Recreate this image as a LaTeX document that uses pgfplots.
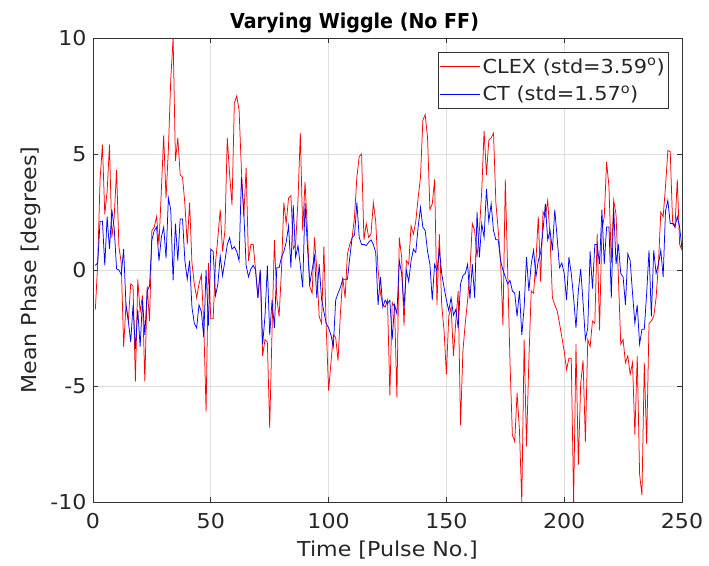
\documentclass[border=0pt]{standalone}
\usepackage{fontspec}
\setmainfont{DejaVu Sans}[FakeStretch=1.08]
\newfontfamily\titlefont{DejaVu Sans}[FakeStretch=0.93]
\usepackage{pgfplots}
\pgfplotsset{compat=1.18}
\begin{document}
\begin{tikzpicture}
\begin{axis}[
  scale only axis, width=589pt, height=464pt,
  xmin=0, xmax=250, ymin=-10, ymax=10,
  xtick={0,50,100,150,200,250}, xticklabels={0,50,100,150,200,250},
  ytick={-10,-5,0,5,10}, yticklabels={-10,-5,0,5,10},
  tick align=inside, major tick length=5pt,
  grid=major, grid style={black!13, line width=0.6pt},
  axis line style={draw=black!80, line width=0.7pt},
  tick style={black!80, line width=0.6pt},
  ticklabel style={font=\fontsize{20.5}{24}\selectfont, text=black!85},
  xticklabel shift=8pt,
  yticklabel shift=3pt,
  xlabel={Time [Pulse No.]}, ylabel={Mean Phase [degrees]},
  label style={font=\fontsize{20.5}{24}\selectfont, text=black!85},
  xlabel style={yshift=-5pt},
  ylabel style={yshift=3pt},
  title={Varying Wiggle (No FF)},
  title style={font=\titlefont\fontsize{20.5}{24}\selectfont\bfseries, yshift=-4pt, xshift=-33pt},
  legend style={at={(1,1)}, anchor=north east, xshift=-13pt, yshift=-14pt,
    draw=black!80, line width=0.6pt, fill=white,
    font=\fontsize{19.3}{23}\selectfont, text=black!85,
    inner xsep=2pt, inner ysep=4pt, row sep=7pt},
  legend cell align=left,
  legend image code/.code={\draw[#1, line width=0.8pt] (3pt,0pt) -- (43pt,0pt);},
]
\addplot[color=red, line width=0.75pt] coordinates {
(1,-1.7)(2,0.3)(3,3.9)(4,5.4)(5,2.4)(6,3.4)(7,5.4)(8,1.4)(9,2.3)(10,4.3)
(11,1.0)(12,0.3)(13,-3.3)(14,-1.5)(15,-2.2)(16,-0.6)(17,-0.7)(18,-4.8)(19,-0.4)(20,-1.8)
(21,-1.1)(22,-4.8)(23,-0.7)(24,-2.2)(25,1.7)(26,1.85)(27,2.3)(28,1.1)(29,3.4)(30,5.8)
(31,3.1)(32,5.2)(33,8.2)(34,10)(35,4.7)(36,5.7)(37,4.1)(38,4.0)(39,2.85)(40,1.1)
(41,2.9)(42,0.3)(43,-0.6)(44,-1.2)(45,-0.6)(46,-0.2)(47,-2.3)(48,-6.1)(49,0.3)(50,-2.1)
(51,-2.1)(52,0.3)(53,1.4)(54,2.6)(55,0.8)(56,1.7)(57,5.7)(58,4.1)(59,2.8)(60,7.2)
(61,7.5)(62,6.9)(63,4.3)(64,2.3)(65,4.4)(66,0.4)(67,1.1)(68,1.1)(69,0)(70,-1.2)
(71,0)(72,-3.7)(73,-3.0)(74,-3.1)(75,-6.8)(76,-2.6)(77,1.3)(78,-1.2)(79,-2.0)(80,0)
(81,2.9)(82,2.0)(83,3.1)(84,3.2)(85,0.9)(86,1.1)(87,3.0)(88,5.9)(89,1.7)(90,3.8)
(91,1.7)(92,-0.7)(93,-1.0)(94,1.4)(95,0)(96,-2.0)(97,-2.3)(98,1.0)(99,-2.5)(100,-5.2)
(101,-4.0)(102,-2.8)(103,-2.9)(104,-3.9)(105,-1.9)(106,-0.3)(107,-1.2)(108,0.7)(109,1.1)(110,1.4)
(111,2.3)(112,4.0)(113,4.9)(114,5.0)(115,1.3)(116,2.0)(117,1.4)(118,1.55)(119,2.9)(120,2.1)
(121,0)(122,-1.0)(123,-1.5)(124,-1.6)(125,-1.3)(126,-5.4)(127,-1.4)(128,-1.6)(129,-5.5)(130,1.4)
(131,0.55)(132,-2.4)(133,0.4)(134,0.25)(135,1.9)(136,1.55)(137,2.1)(138,3.1)(139,4.0)(140,6.45)
(141,6.7)(142,5.7)(143,2.6)(144,2.85)(145,3.9)(146,-1.5)(147,1.55)(148,-1.5)(149,-2.6)(150,-4.5)
(151,-2.0)(152,-1.6)(153,-3.7)(154,-2.2)(155,-0.9)(156,-6.7)(157,-3.5)(158,-2.3)(159,-1.3)(160,0)
(161,2.0)(162,1.7)(163,0.55)(164,1.7)(165,3.4)(166,6.0)(167,4.1)(168,5.6)(169,5.7)(170,5.9)
(171,2.9)(172,1.7)(173,0.4)(174,-2.4)(175,3.9)(176,0)(177,-4.0)(178,-7.1)(179,-7.4)(180,-5.3)
(181,-6.9)(182,-10)(183,-3.0)(184,-7.6)(185,-3.9)(186,-0.9)(187,-1.0)(188,0.4)(189,2.3)(190,-0.5)
(191,2.5)(192,2.3)(193,3.0)(194,1.4)(195,-1.2)(196,-1.5)(197,-1.75)(198,-2.3)(199,-2.9)(200,-3.5)
(201,-4.3)(202,-3.8)(203,-3.8)(204,-10)(205,-3.2)(206,-8.4)(207,-4.9)(208,-3.9)(209,-7.4)(210,-3.0)
(211,-3.3)(212,-2.2)(213,-2.3)(214,1.55)(215,-2.6)(216,1.7)(217,2.3)(218,4.65)(219,3.6)(220,0.3)
(221,3.0)(222,2.4)(223,-0.3)(224,-3.2)(225,-3.0)(226,-4.0)(227,-3.7)(228,-4.5)(229,-4.0)(230,-7.1)
(231,-3.7)(232,-8.8)(233,-9.7)(234,-4.0)(235,-7.5)(236,-2.3)(237,-2.2)(238,-2.0)(239,-1.2)(240,0.25)
(241,2.5)(242,2.3)(243,3.6)(244,5.15)(245,5.1)(246,2.1)(247,1.85)(248,3.9)(249,1.1)(250,0.85)
};
\addlegendentry{CLEX (std=3.59\textsuperscript{o})}
\addplot[color=blue, line width=0.75pt] coordinates {
(1,0.2)(2,0.3)(3,2.1)(4,2.1)(5,0.2)(6,2.3)(7,0.9)(8,2.6)(9,1.8)(10,0.05)
(11,0)(12,-0.2)(13,0.9)(14,-1.5)(15,-2.2)(16,-3.1)(17,-1.5)(18,-3.4)(19,-1.7)(20,-3.3)
(21,-1.3)(22,-2.8)(23,-0.9)(24,-0.7)(25,1.3)(26,1.7)(27,1.85)(28,0.4)(29,1.4)(30,1.85)
(31,0.5)(32,3.1)(33,2.6)(34,-0.45)(35,2.0)(36,0.4)(37,2.2)(38,2.2)(39,0.4)(40,-0.4)
(41,0.4)(42,-1.6)(43,-2.3)(44,-2.5)(45,-1.5)(46,-1.8)(47,-2.9)(48,0)(49,-2.4)(50,0.9)
(51,0.8)(52,-1.1)(53,-0.6)(54,0.6)(55,-0.25)(56,0.4)(57,1.1)(58,1.4)(59,0.9)(60,1.0)
(61,0.8)(62,0.4)(63,4.0)(64,2.5)(65,0.2)(66,-0.3)(67,0.05)(68,0.2)(69,0)(70,-1.2)
(71,0)(72,-3.2)(73,-2.0)(74,0.2)(75,-2.8)(76,-1.3)(77,-2.5)(78,0.1)(79,0.1)(80,0.55)
(81,0.8)(82,1.2)(83,1.9)(84,0.1)(85,2.8)(86,0.55)(87,1.05)(88,0.2)(89,-0.75)(90,2.9)
(91,1.05)(92,-0.6)(93,0)(94,0.6)(95,-1.2)(96,0.25)(97,-1.25)(98,-1.8)(99,-2.3)(100,-2.5)
(101,-2.8)(102,-3.3)(103,-1.3)(104,-1.0)(105,-0.75)(106,-0.4)(107,-0.4)(108,-0.4)(109,0.55)(110,1.4)
(111,1.5)(112,2.9)(113,1.4)(114,1.1)(115,1.1)(116,1.05)(117,1.2)(118,1.3)(119,1.1)(120,0.75)
(121,-1.5)(122,-0.3)(123,-1.6)(124,-1.3)(125,-1.45)(126,-1.3)(127,-3.0)(128,-1.5)(129,-1.9)(130,0.4)
(131,-0.15)(132,-1.6)(133,0)(134,-0.5)(135,0.4)(136,0.9)(137,0.75)(138,1.85)(139,2.7)(140,1.85)
(141,1.7)(142,0.8)(143,0.25)(144,-1.3)(145,0.25)(146,-0.05)(147,0.9)(148,-0.15)(149,-0.75)(150,-1.3)
(151,-1.75)(152,-1.2)(153,-1.95)(154,-1.7)(155,-2.5)(156,-0.6)(157,-0.25)(158,-0.15)(159,0.25)(160,-1.25)
(161,0.25)(162,-1.2)(163,2.5)(164,0.55)(165,2.0)(166,1.4)(167,3.5)(168,2.1)(169,2.85)(170,1.7)
(171,1.3)(172,1.3)(173,0.4)(174,0)(175,-0.3)(176,-0.6)(177,-0.45)(178,-0.9)(179,-1.0)(180,-2.0)
(181,-0.9)(182,-2.8)(183,-1.6)(184,0.55)(185,-0.9)(186,0.25)(187,0.85)(188,-0.3)(189,0.4)(190,0.75)
(191,1.7)(192,2.85)(193,1.3)(194,1.7)(195,0.85)(196,2.6)(197,1.4)(198,0.1)(199,0.3)(200,-0.15)
(201,-1.3)(202,0.55)(203,-0.15)(204,-1.2)(205,-2.5)(206,-0.9)(207,0.05)(208,-1.4)(209,-3.0)(210,-2.5)
(211,0.8)(212,-0.8)(213,1.1)(214,1.1)(215,0.25)(216,2.6)(217,0.25)(218,1.85)(219,1.85)(220,-1.2)
(221,2.7)(222,0.25)(223,1.1)(224,-0.15)(225,-0.3)(226,-1.5)(227,0.7)(228,0.4)(229,-1.0)(230,-2.3)
(231,-1.5)(232,-3.2)(233,-2.55)(234,-2.55)(235,-1.0)(236,0.85)(237,-2.0)(238,0.85)(239,-0.15)(240,0.25)
(241,0.85)(242,-0.3)(243,2.55)(244,3.0)(245,2.0)(246,2.0)(247,1.85)(248,2.3)(249,1.85)(250,0.9)
};
\addlegendentry{CT (std=1.57\textsuperscript{o})}
\end{axis}
\pgfresetboundingbox
\path[use as bounding box] ([shift={(-93pt,-63pt)}]current axis.south west) rectangle ([shift={(27pt,38pt)}]current axis.north east);
\end{tikzpicture}
\end{document}
